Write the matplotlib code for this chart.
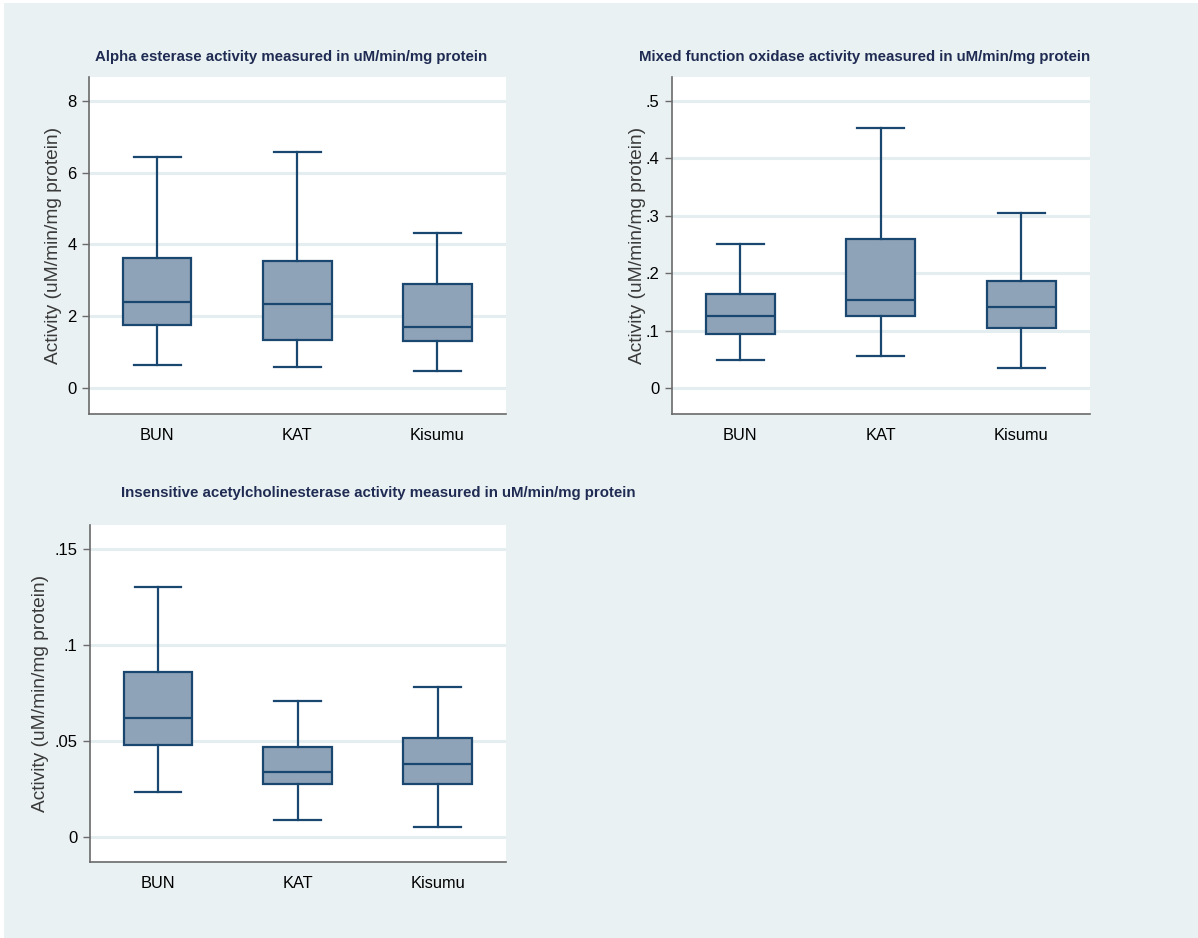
import matplotlib
matplotlib.use("Agg")
import matplotlib.pyplot as plt
from matplotlib.patches import Rectangle

# Groups
groups = ["BUN", "KAT", "Kisumu"]

# Alpha esterase (uM/min/mg protein): whisker low, Q1, median, Q3, whisker high
alpha_low = [0.65, 0.59, 0.47]
alpha_q1 = [1.75, 1.34, 1.31]
alpha_med = [2.40, 2.34, 1.71]
alpha_q3 = [3.61, 3.54, 2.90]
alpha_high = [6.44, 6.58, 4.32]

# Mixed function oxidase
mfo_low = [0.049, 0.056, 0.035]
mfo_q1 = [0.095, 0.126, 0.1055]
mfo_med = [0.126, 0.154, 0.141]
mfo_q3 = [0.165, 0.259, 0.186]
mfo_high = [0.252, 0.453, 0.305]

# Insensitive acetylcholinesterase
ache_low = [0.0233, 0.0089, 0.0050]
ache_q1 = [0.0478, 0.0276, 0.0276]
ache_med = [0.0620, 0.0339, 0.0382]
ache_q3 = [0.0859, 0.0469, 0.0515]
ache_high = [0.1305, 0.0709, 0.0780]

alpha_ticks = [0, 2, 4, 6, 8]
alpha_ticklabels = ["0", "2", "4", "6", "8"]
mfo_ticks = [0, 0.1, 0.2, 0.3, 0.4, 0.5]
mfo_ticklabels = ["0", ".1", ".2", ".3", ".4", ".5"]
ache_ticks = [0, 0.05, 0.10, 0.15]
ache_ticklabels = ["0", ".05", ".1", ".15"]

titles = [
    "Alpha esterase activity measured in uM/min/mg protein",
    "Mixed function oxidase activity measured in uM/min/mg protein",
    "Insensitive acetylcholinesterase activity measured in uM/min/mg protein",
]
ylabel = "Activity (uM/min/mg protein)"

BG = "#e9f1f3"
GRID = "#e4eef0"
NAVY = "#1a476f"
FILL = "#8ea3b7"
TITLE_C = "#1f2b52"
AXIS_C = "#6a6a6a"

FONT = ["Liberation Sans", "DejaVu Sans"]

W, H = 1198, 938
fig = plt.figure(figsize=(W / 100, H / 100), dpi=100)
fig.patch.set_facecolor("white")
fig.add_artist(Rectangle((4 / W, 0), 1 - 4 / W, 1 - 3 / H, transform=fig.transFigure,
                         facecolor=BG, edgecolor="none", zorder=-10))


def px_axes(left, top, right, bottom):
    return fig.add_axes([left / W, 1 - bottom / H, (right - left) / W, (bottom - top) / H])


def draw_panel(ax, low, q1, med, q3, high, ticks, ticklabels, ylim, label_x):
    stats = []
    for i, g in enumerate(groups):
        stats.append(dict(label=g, whislo=low[i], q1=q1[i], med=med[i], q3=q3[i],
                          whishi=high[i], fliers=[]))
    ax.bxp(stats, positions=[1, 2, 3], widths=0.49, capwidths=0.335,
           showfliers=False, patch_artist=True,
           boxprops=dict(facecolor=FILL, edgecolor=NAVY, linewidth=1.6),
           medianprops=dict(color=NAVY, linewidth=1.6),
           whiskerprops=dict(color=NAVY, linewidth=1.6),
           capprops=dict(color=NAVY, linewidth=1.6))
    ax.set_xlim(0.514, 3.49)
    ax.set_ylim(*ylim)
    ax.set_facecolor("white")
    ax.set_yticks(ticks)
    ax.set_yticklabels(ticklabels, family=FONT, fontsize=12, color="black")
    ax.set_xticks([1, 2, 3])
    ax.set_xticklabels(groups, family=FONT, fontsize=11.8, color="black")
    ax.tick_params(axis="x", length=0, pad=10)
    ax.tick_params(axis="y", length=5, width=1, color=AXIS_C, pad=4)
    for t in ticks:
        ax.axhline(t, color=GRID, linewidth=2.2, zorder=0)
    for s in ("top", "right"):
        ax.spines[s].set_visible(False)
    for s in ("left", "bottom"):
        ax.spines[s].set_color(AXIS_C)
        ax.spines[s].set_linewidth(1.2)
    ax.set_ylabel(ylabel, family=FONT, fontsize=13.8, color="#3a3a3a", va="center")
    ax.yaxis.set_label_coords(label_x, 0.5)


ax1 = px_axes(89, 77, 506, 414)
draw_panel(ax1, alpha_low, alpha_q1, alpha_med, alpha_q3, alpha_high,
           alpha_ticks, alpha_ticklabels, (-0.72, 8.66), (54 - 89) / 417)
ax2 = px_axes(672, 77, 1090, 414)
draw_panel(ax2, mfo_low, mfo_q1, mfo_med, mfo_q3, mfo_high,
           mfo_ticks, mfo_ticklabels, (-0.0447, 0.5418), (638 - 672) / 418)
ax3 = px_axes(90, 525, 506, 862)
draw_panel(ax3, ache_low, ache_q1, ache_med, ache_q3, ache_high,
           ache_ticks, ache_ticklabels, (-0.0130, 0.1627), (41 - 90) / 416)

for (cx, cy), title in zip([(291, 57), (865, 57), (378, 493)], titles):
    fig.text(cx / W, 1 - cy / H, title, ha="center", va="center", family=FONT,
             fontsize=10.8, fontweight="bold", color=TITLE_C)

fig.savefig("out.png", dpi=100, facecolor=fig.get_facecolor())
